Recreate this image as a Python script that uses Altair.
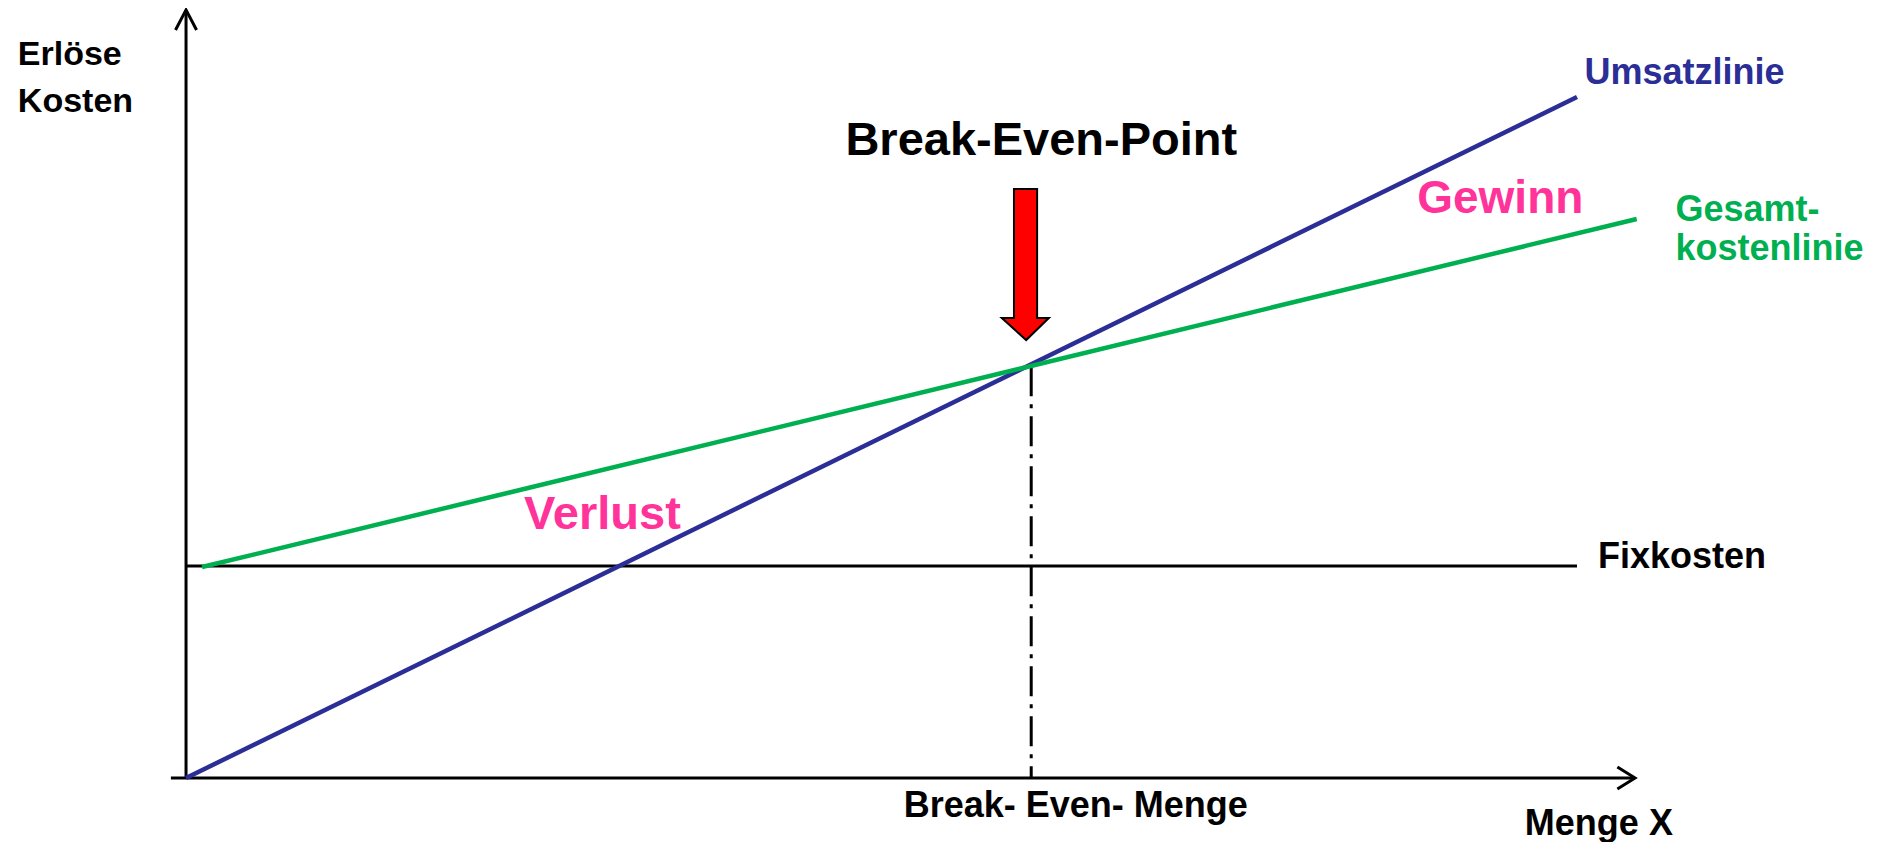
import altair as alt
import pandas as pd

# ---- data (x: Menge, y: Erlöse / Kosten) ----
umsatz_x = [0, 165.4]
umsatz_y = [0, 321.2]
gesamt_x = [1.9, 172.5]
gesamt_y = [99.5, 263.7]
fix_x = [0, 165.4]
fix_y = [100, 100]
bep_x = 100.5
bep_y = 194.2

# axes drawn as arrows
xaxis_x = [-1.8, 172.3]
yaxis_top = 362.3
yhead_x = [-1.25, 0, 1.25]
yhead_y = [352.8, 362.3, 352.8]
xhead_x = [170.2, 172.3, 170.2]
xhead_y = [5.2, 0, -5.2]

# red arrow: shaft and head
shaft_x = [98.45, 101.2]
shaft_y = [217.0, 277.8]
head_x = [97.0, 99.9, 102.6]
head_top = [217.0, 217.0, 217.0]
head_bottom = [217.0, 206.6, 217.0]

# labels
left_texts = ["Erlöse", "Kosten", "Umsatzlinie", "Gewinn", "Gesamt-", "kostenlinie",
              "Fixkosten", "Verlust", "Menge X"]
left_x = [-20.0, -20.0, 166.3, 146.4, 177.1, 177.1, 167.9, 40.2, 159.2]
left_y = [336.3, 314.2, 327.4, 266.5, 262.7, 244.3, 99.1, 117.5, -27.0]
left_size = [34, 34, 36, 46, 36, 36, 36, 47, 36]
left_color = ["#000000", "#000000", "#2B2E96", "#FF3399", "#00B050", "#00B050",
              "#000000", "#FF3399", "#000000"]

center_texts = ["Break-Even-Point", "Break- Even- Menge"]
center_x = [101.7, 105.8]
center_y = [293.9, -18.4]
center_size = [47, 36]
center_color = ["#000000", "#000000"]

# ---- scales ----
X_DOMAIN = [-21.17, 200.24]
Y_DOMAIN = [-30.19, 363.21]
xs = alt.Scale(domain=X_DOMAIN, nice=False, zero=False)
ys = alt.Scale(domain=Y_DOMAIN, nice=False, zero=False)
FONT = "Liberation Sans"

# black segments: axes, arrow heads, Fixkosten
rows = []
def add(seg, xs_, ys_):
    for i, (a, b) in enumerate(zip(xs_, ys_)):
        rows.append({"seg": seg, "i": i, "x": a, "y": b})

add("xaxis", xaxis_x, [0, 0])
add("yaxis", [0, 0], [0, yaxis_top])
add("yhead", yhead_x, yhead_y)
add("xhead", xhead_x, xhead_y)
add("fix", fix_x, fix_y)
black_df = pd.DataFrame(rows)

black = alt.Chart(black_df).mark_line(color="black", strokeWidth=3, clip=False).encode(
    x=alt.X("x:Q", scale=xs, axis=None),
    y=alt.Y("y:Q", scale=ys, axis=None),
    detail="seg:N",
    order="i:Q",
)

dash_df = pd.DataFrame({"x": [bep_x, bep_x], "y": [bep_y, 0], "i": [0, 1]})
dash = alt.Chart(dash_df).mark_line(color="black", strokeWidth=3,
                                    strokeDash=[30, 8, 4, 8]).encode(
    x=alt.X("x:Q", scale=xs, axis=None),
    y=alt.Y("y:Q", scale=ys, axis=None),
    order="i:Q",
)

blue_df = pd.DataFrame({"x": umsatz_x, "y": umsatz_y, "i": [0, 1]})
blue = alt.Chart(blue_df).mark_line(color="#2B2E96", strokeWidth=4.5).encode(
    x=alt.X("x:Q", scale=xs, axis=None),
    y=alt.Y("y:Q", scale=ys, axis=None),
    order="i:Q",
)

green_df = pd.DataFrame({"x": gesamt_x, "y": gesamt_y, "i": [0, 1]})
green = alt.Chart(green_df).mark_line(color="#00B050", strokeWidth=4.5).encode(
    x=alt.X("x:Q", scale=xs, axis=None),
    y=alt.Y("y:Q", scale=ys, axis=None),
    order="i:Q",
)

shaft_df = pd.DataFrame({"x": [shaft_x[0]], "x2": [shaft_x[1]],
                         "y": [shaft_y[0]], "y2": [shaft_y[1]]})
shaft = alt.Chart(shaft_df).mark_rect(color="#FF0000", stroke="black",
                                      strokeWidth=2).encode(
    x=alt.X("x:Q", scale=xs, axis=None), x2="x2:Q",
    y=alt.Y("y:Q", scale=ys, axis=None), y2="y2:Q",
)

head_df = pd.DataFrame({"x": head_x, "y": head_top, "y2": head_bottom})
head = alt.Chart(head_df).mark_area(color="#FF0000", stroke="black",
                                    strokeWidth=2, fillOpacity=1).encode(
    x=alt.X("x:Q", scale=xs, axis=None),
    y=alt.Y("y:Q", scale=ys, axis=None, stack=None),
    y2="y2:Q",
)

# red patch hiding the head's top edge inside the shaft
patch_df = pd.DataFrame({"x": [shaft_x[0] + 0.13], "x2": [shaft_x[1] - 0.13],
                         "y": [shaft_y[0] - 0.6], "y2": [shaft_y[0] + 1.0]})
patch = alt.Chart(patch_df).mark_rect(color="#FF0000").encode(
    x=alt.X("x:Q", scale=xs, axis=None), x2="x2:Q",
    y=alt.Y("y:Q", scale=ys, axis=None), y2="y2:Q",
)

lt_df = pd.DataFrame({"t": left_texts, "x": left_x, "y": left_y,
                      "s": left_size, "c": left_color})
ltext = alt.Chart(lt_df).mark_text(align="left", baseline="alphabetic", font=FONT,
                                   fontWeight="bold", clip=False).encode(
    x=alt.X("x:Q", scale=xs, axis=None),
    y=alt.Y("y:Q", scale=ys, axis=None),
    text="t:N",
    size=alt.Size("s:Q", scale=None, legend=None),
    color=alt.Color("c:N", scale=None, legend=None),
)

ct_df = pd.DataFrame({"t": center_texts, "x": center_x, "y": center_y,
                      "s": center_size, "c": center_color})
ctext = alt.Chart(ct_df).mark_text(align="center", baseline="alphabetic", font=FONT,
                                   fontWeight="bold", clip=False).encode(
    x=alt.X("x:Q", scale=xs, axis=None),
    y=alt.Y("y:Q", scale=ys, axis=None),
    text="t:N",
    size=alt.Size("s:Q", scale=None, legend=None),
    color=alt.Color("c:N", scale=None, legend=None),
)

chart = alt.layer(black, dash, blue, green, shaft, head, patch, ltext, ctext).properties(
    width=1862, height=834, padding=0,
    autosize=alt.AutoSizeParams(type="none"),
    background="white",
).configure_view(stroke=None)

chart.save("out.html", embed_options={"renderer": "svg", "actions": False})
